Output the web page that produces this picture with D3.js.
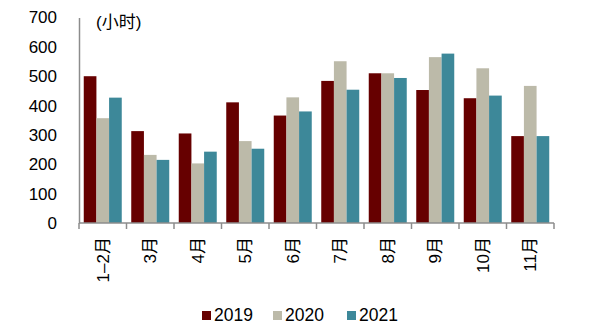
<!DOCTYPE html>
<html>
<head>
<meta charset="utf-8">
<script src="https://cdn.jsdelivr.net/npm/d3@7"></script>
<style>
  body { margin: 0; background: #fff; }
  svg text { font-family: Arial, "Liberation Sans", "Noto Sans CJK SC", sans-serif; fill: #000; }
</style>
</head>
<body>
<div class="chart"></div>
<script>
var categories = ["1\u20132月", "3月", "4月", "5月", "6月", "7月", "8月", "9月", "10月", "11月"];
var years = ["2019", "2020", "2021"];
var v2019 = [500, 313, 305, 411, 366, 484, 510, 453, 425, 296];
var v2020 = [357, 232, 203, 279, 428, 551, 510, 565, 527, 467];
var v2021 = [427, 215, 243, 253, 380, 454, 494, 577, 434, 296];
var yTicks = [0, 100, 200, 300, 400, 500, 600, 700];
var colors = ["#660000", "#bcbaa9", "#3d8899"];

(function () {
	var series = [v2019, v2020, v2021];
	var W = 595, H = 328;
	var left = 79, right = 554, top = 17.5, bottom = 223;

	var svg = d3.select(".chart").append("svg")
		.attr("width", W)
		.attr("height", H);

	var x = d3.scaleBand()
		.domain(categories)
		.range([left, right])
		.paddingInner(0.2)
		.paddingOuter(0.1);

	var xs = d3.scaleBand()
		.domain(years)
		.range([0, x.bandwidth()]);

	var y = d3.scaleLinear()
		.domain([0, 700])
		.range([bottom, top]);

	// bars
	var group = svg.selectAll("g.grp")
		.data(categories)
		.enter().append("g")
		.attr("class", "grp")
		.attr("transform", function (d) { return "translate(" + x(d) + ",0)"; });

	group.selectAll("rect")
		.data(function (d, i) { return series.map(function (s, k) { return { year: years[k], v: s[i], k: k }; }); })
		.enter().append("rect")
		.attr("x", function (d) { return xs(d.year); })
		.attr("width", xs.bandwidth())
		.attr("y", function (d) { return y(d.v); })
		.attr("height", function (d) { return bottom - y(d.v); })
		.attr("fill", function (d) { return colors[d.k]; });

	// y axis
	var yAxis = svg.append("g")
		.attr("transform", "translate(" + left + ",0)")
		.call(d3.axisLeft(y).tickValues(yTicks).tickSize(0).tickPadding(22));
	yAxis.select(".domain").attr("stroke", "#8c8c8c").attr("stroke-width", 1.5);
	yAxis.selectAll("text").style("font-size", "17px");

	// x axis with ticks at category boundaries
	var xAxis = svg.append("g")
		.attr("transform", "translate(0," + bottom + ")");
	xAxis.append("line")
		.attr("x1", left).attr("x2", right)
		.attr("stroke", "#8c8c8c").attr("stroke-width", 1.5);
	var step = x.step();
	xAxis.selectAll("line.tk")
		.data(d3.range(categories.length + 1))
		.enter().append("line")
		.attr("class", "tk")
		.attr("x1", function (i) { return left + i * step; })
		.attr("x2", function (i) { return left + i * step; })
		.attr("y1", 0).attr("y2", 6)
		.attr("stroke", "#8c8c8c").attr("stroke-width", 1.5);
	xAxis.selectAll("text")
		.data(categories)
		.enter().append("text")
		.attr("transform", function (d) { return "translate(" + (x(d) + x.bandwidth() / 2) + ",14) rotate(-90)"; })
		.attr("text-anchor", "end")
		.attr("dy", "0.35em")
		.style("font-size", "17px")
		.text(function (d) { return d; });

	// unit
	svg.append("text")
		.attr("x", 96).attr("y", 28)
		.style("font-size", "17px")
		.text("(小时)");

	// legend
	var legX = [202, 273, 347];
	var leg = svg.selectAll("g.leg")
		.data(years)
		.enter().append("g")
		.attr("class", "leg")
		.attr("transform", function (d, i) { return "translate(" + legX[i] + ",310)"; });
	leg.append("rect")
		.attr("y", 1)
		.attr("width", 9).attr("height", 9)
		.attr("fill", function (d, i) { return colors[i]; });
	leg.append("text")
		.attr("x", 12).attr("y", 11)
		.style("font-size", "17.5px")
		.text(function (d) { return d; });
})();
</script>
</body>
</html>
